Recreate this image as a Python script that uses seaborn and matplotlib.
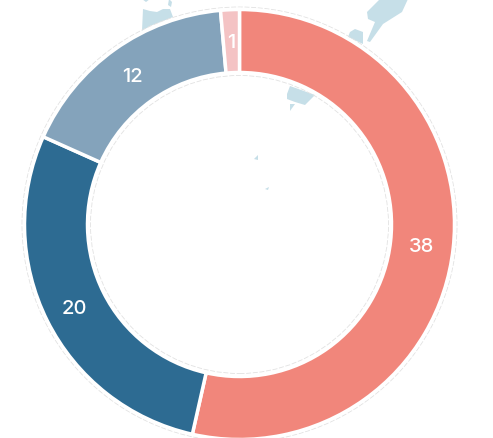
import matplotlib
matplotlib.use('Agg')
import matplotlib.pyplot as plt
from matplotlib.patches import Circle, Polygon
import seaborn as sns

# donut values, clockwise from the top
values = [38, 20, 12, 1]
colors = ['#f1867b', '#2d6b92', '#84a3bb', '#f4c3c4']

# pieces of the faint map behind the donut, in pixels of the picture
map_color = '#c6dfe8'
map_pieces = [
    [(143, 10), (150, 12), (157, 13), (163, 10), (170, 10), (173, 18), (163, 22), (150, 27), (142, 32)],
    [(169, 0), (172, 3), (171, 8), (168, 6)],
    [(142, 0), (150, 0), (146, 3)],
    [(287, 95), (290, 87), (315, 96), (305, 106), (295, 103), (287, 100)],
    [(290, 105), (295, 105), (290, 112)],
    [(367, 13), (380, 0), (408, 0), (402, 13), (383, 25), (370, 43), (367, 42), (375, 23), (368, 20)],
    [(350, 33), (355, 30), (363, 33), (363, 45), (348, 38)],
    [(254, 160), (258, 156), (258, 161)],
    [(265, 190), (269, 188), (268, 191)],
]

W, H = 493, 439
CX, CY = 239.5, 225.5

sns.set_theme(style='white')
plt.rcParams['font.family'] = ['Inter', 'DejaVu Sans']

fig = plt.figure(figsize=(W / 100, H / 100), dpi=100)
ax = fig.add_axes([0, 0, 1, 1])

for piece in map_pieces:
    ax.add_patch(Polygon([(x, H - y) for x, y in piece], closed=True, fc=map_color, ec='none', zorder=0))

wedges, texts = ax.pie(
    values,
    labels=values,
    colors=colors,
    center=(CX, H - CY),
    radius=215,
    startangle=90,
    counterclock=False,
    labeldistance=0.855,
    wedgeprops={'width': 63, 'edgecolor': 'white', 'linewidth': 2.5},
    textprops={'color': 'white', 'fontsize': 14.5, 'fontweight': 'medium'},
)
for w in wedges:
    w.set_zorder(2)
for t in texts:
    t.set_zorder(3)
    t.set_horizontalalignment('center')
    t.set_verticalalignment('center')
    # the digits sit a little low in the reference
    x, y = t.get_position()
    t.set_position((x - 0.5, y - 1.5))

# thin dashed rings just outside the coloured band
for r in (217.5, 149):
    ax.add_patch(Circle((CX, H - CY), r, fc='none', ec='#e2e2e2', lw=0.6, ls=(0, (6, 2)), zorder=1))

ax.set_xlim(0, W)
ax.set_ylim(0, H)
ax.set_aspect('equal')
ax.axis('off')

fig.savefig('out.png', dpi=100)
